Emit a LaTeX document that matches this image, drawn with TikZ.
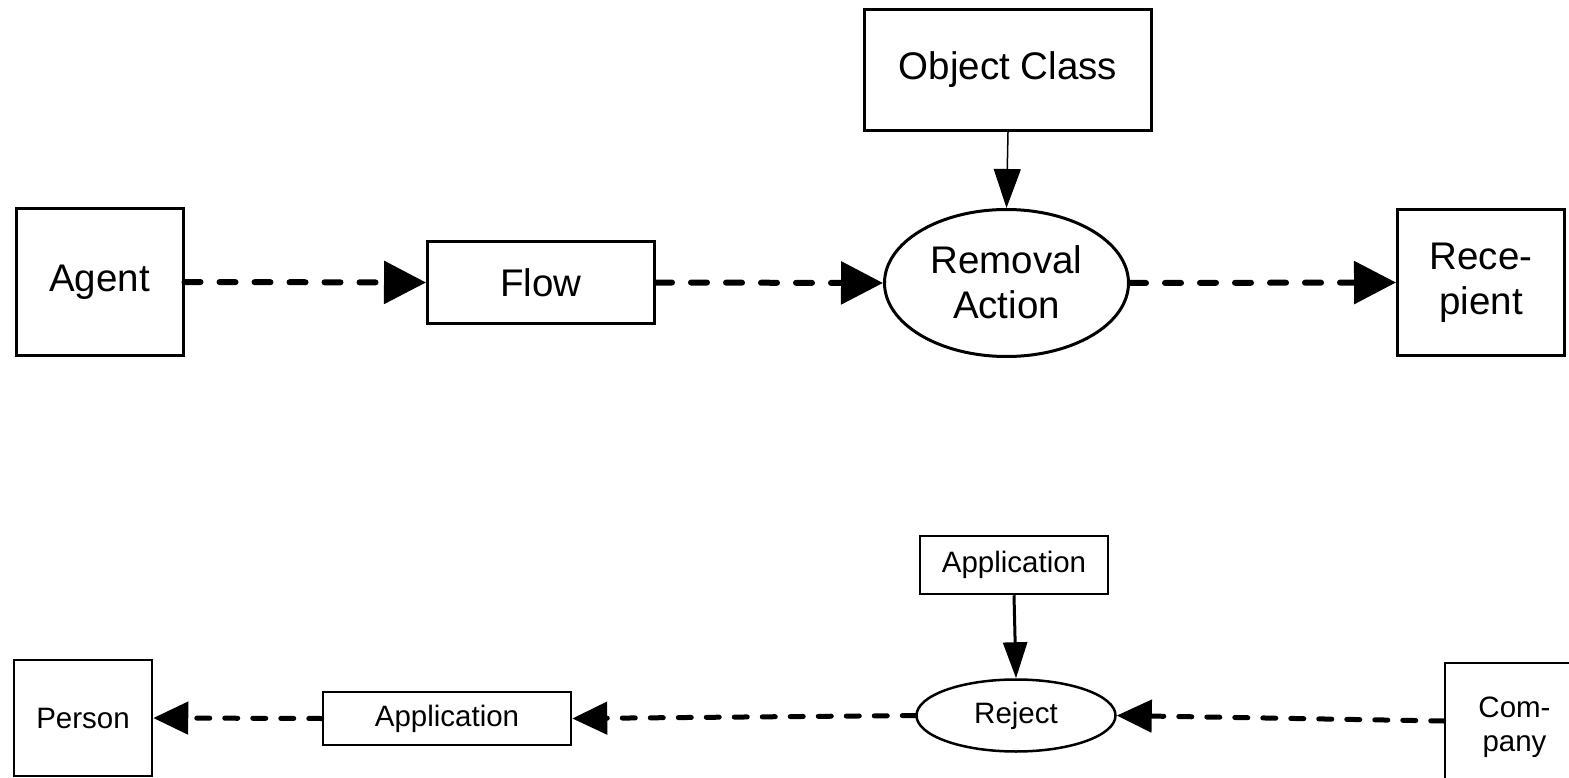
\documentclass[tikz,border=0pt]{standalone}
\usepackage{fontspec}
\setmainfont{Liberation Sans}
\usetikzlibrary{arrows.meta,shapes.geometric}

% move a line of node text down by #1 without changing the node size
\newcommand\lwr[2]{\raisebox{-#1}{#2}}

\begin{document}
\begin{tikzpicture}[x=1pt,y=-1pt,
  bigtext/.style={font=\fontsize{38.5}{45.5}\selectfont},
  smalltext/.style={font=\fontsize{29.5}{34.5}\selectfont},
  bigbox/.style={draw, rectangle, line width=3pt, inner sep=0pt, align=center, bigtext},
  bigoval/.style={draw, ellipse, line width=3pt, inner sep=0pt, align=center, bigtext},
  smallbox/.style={draw, rectangle, line width=2.5pt, inner sep=0pt, align=center, smalltext},
  smalloval/.style={draw, ellipse, line width=2.5pt, inner sep=0pt, align=center, smalltext},
  flowtop/.style={line width=6pt, line cap=round, dash pattern=on 16pt off 19pt,
    -{Triangle[length=42pt,width=42pt]}},
  flowbottom/.style={line width=5pt, line cap=round, dash pattern=on 13pt off 15pt,
    -{Triangle[length=35pt,width=32pt]}},
  classlink/.style={line width=1.5pt, -{Triangle[length=39pt,width=27pt]}},
  smalllink/.style={line width=3pt, -{Triangle[length=36pt,width=24pt]}}
]
\useasboundingbox (0,0) rectangle (1569,778);
\clip (0,0) rectangle (1569,778);

% upper sentence: Agent -> Flow -> Removal Action -> Recepient
\node[bigbox, minimum width=167pt, minimum height=147pt] (agent) at (99.5,282) {\lwr{2pt}{Agent}};
\node[bigbox, minimum width=227pt, minimum height=82pt] (flow) at (541,282.5) {Flow};
\node[bigoval, minimum width=244pt, minimum height=147pt] (removal) at (1006.5,283) {\lwr{-2pt}{Removal}\\\lwr{-2pt}{Action}};
\node[bigbox, minimum width=287pt, minimum height=121pt] (objclass) at (1008,70) {\lwr{2pt}{Object Class}};
\node[bigbox, minimum width=167pt, minimum height=146pt] (recipient) at (1481,282.5) {\lwr{2pt}{Rece-}\\\lwr{2pt}{pient}};

\draw[flowtop] (agent.east) -- (flow.west);
\draw[flowtop] (flow.east) -- (removal.west);
\draw[flowtop] (removal.east) -- (recipient.west);
\draw[classlink] (objclass.south) -- (removal.north);

% lower sentence: Company -> Reject -> Application -> Person
\node[smallbox, minimum width=138pt, minimum height=116pt] (person) at (83,718) {Person};
\node[smallbox, minimum width=248pt, minimum height=53pt] (appflow) at (447,718.5) {\lwr{1pt}{Application}};
\node[smalloval, minimum width=199pt, minimum height=72pt] (reject) at (1016,715.5) {\lwr{2pt}{Reject}};
\node[smallbox, minimum width=188pt, minimum height=58pt] (appclass) at (1014,565) {\lwr{2pt}{Application}};
\node[smallbox, minimum width=139pt, minimum height=129pt] (company) at (1514.5,727.5) {Com-\\pany};

\draw[flowbottom] ([yshift=6.5pt]company.west) -- (reject.east);
\draw[flowbottom] (reject.west) -- (appflow.east);
\draw[flowbottom] (appflow.west) -- (person.east);
\draw[smalllink] (appclass.south) -- (reject.north);
\end{tikzpicture}
\end{document}
